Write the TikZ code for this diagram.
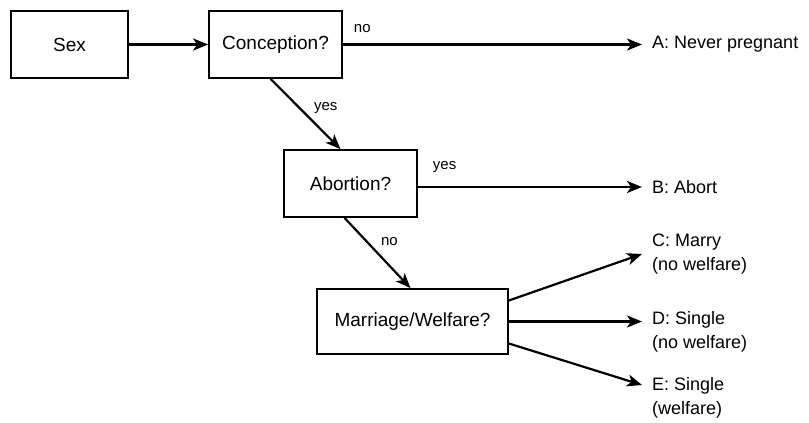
\documentclass[tikz,border=0pt]{standalone}
\usepackage{fontspec}
\setmainfont{Liberation Sans}
\usetikzlibrary{arrows.meta, math}

\tikzset{
  qbox/.style={draw, line width=1.7pt, inner sep=0pt, font=\fontsize{19}{23}\selectfont},
  outc/.style={anchor=west, align=left, inner xsep=10pt, inner ysep=0pt, font=\fontsize{18}{24}\selectfont},
  lbl/.style={font=\fontsize{15}{18}\selectfont, inner sep=2pt},
  branch/.style={-{Stealth[length=15pt, width=12pt, inset=4pt]}, line width=2.2pt},
}

\begin{document}
\begin{tikzpicture}[x=1pt, y=-1pt]
\tikzmath{
\xo=642;
\h=67;
}
\useasboundingbox (0,0) rectangle (809,423);
%question boxes
\node[qbox, minimum width=117pt, minimum height=\h pt] (sex) at (69.5,44.5) {Sex};
\node[qbox, minimum width=133pt, minimum height=\h pt] (conc) at (275.5,44.5) {Conception?};
\node[qbox, minimum width=133pt, minimum height=\h pt] (abort) at (350.5,183.5) {Abortion?};
\node[qbox, minimum width=191pt, minimum height=65pt] (marr) at (412.5,321.5) {Marriage/Welfare?};

%outcomes
\node[outc] (A) at (\xo,44) {A: Never pregnant};
\node[outc] (B) at (\xo,187) {B: Abort};
\node[outc] (C) at (\xo,254) {C: Marry\\(no welfare)};
\node[outc] (D) at (\xo,332) {D: Single\\(no welfare)};
\node[outc] (E) at (\xo,398) {E: Single\\(welfare)};

%branches
\draw[branch] (sex) -- (conc);
\draw[branch] (conc.east) -- (conc.east -| A.west) node[lbl, pos=0, anchor=south west, xshift=8pt, yshift=9pt]{no};
\draw[branch] ([xshift=-5pt]conc.south) -- ([xshift=-10pt]abort.north) node[lbl, pos=0.42, right, xshift=11pt]{yes};
\draw[branch] (abort.east |- B.west) -- (B.west) node[lbl, pos=0, anchor=south west, xshift=12pt, yshift=11pt]{yes};
\draw[branch] ([xshift=-6pt]abort.south) -- ([xshift=-2pt]marr.north) node[lbl, pos=0.34, right, xshift=11pt]{no};

\draw[branch] ([yshift=21pt]marr.east) -- (C.west);
\draw[branch] (marr.east) -- (marr.east -| D.west);
\draw[branch] ([yshift=-22pt]marr.east) -- ([yshift=13pt]E.west);
\end{tikzpicture}
\end{document}
